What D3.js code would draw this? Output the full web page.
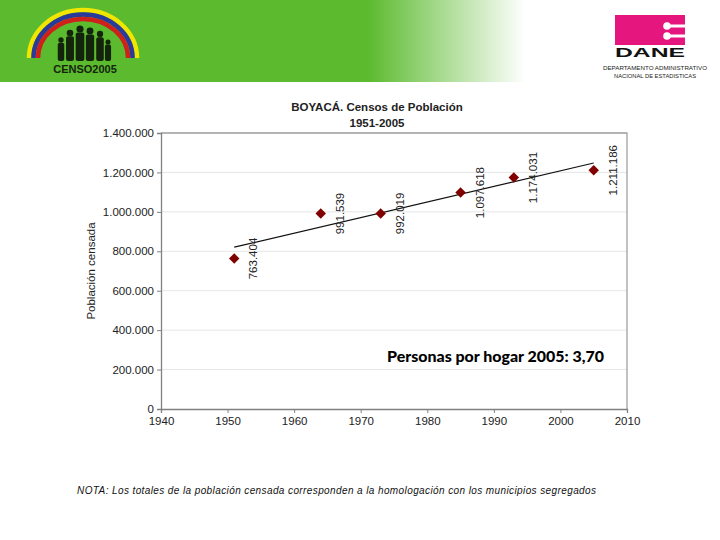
<!DOCTYPE html>
<html><head><meta charset="utf-8">
<script src="https://cdn.jsdelivr.net/npm/d3@7"></script>
<style>body{margin:0;background:#fff}svg{display:block}</style>
</head><body>
<script>
const years = [1951, 1964, 1973, 1985, 1993, 2005];
const population = [763404, 991539, 992019, 1097618, 1174031, 1211186];
const labels = ["763.404", "991.539", "992.019", "1.097.618", "1.174.031", "1.211.186"];
const yTicks = [0, 200000, 400000, 600000, 800000, 1000000, 1200000, 1400000];
const yTickLabels = ["0", "200.000", "400.000", "600.000", "800.000", "1.000.000", "1.200.000", "1.400.000"];
const xTicks = [1940, 1950, 1960, 1970, 1980, 1990, 2000, 2010];

(function () {
const W = 720, H = 540;
const svg = d3.select("body").append("svg").attr("width", W).attr("height", H);

// Header band
const defs = svg.append("defs");
const g1 = defs.append("linearGradient").attr("id", "hdr").attr("x1", "0").attr("x2", "1").attr("y1", "0").attr("y2", "0");
g1.append("stop").attr("offset", "0").attr("stop-color", "#5bba2e");
g1.append("stop").attr("offset", "0.51").attr("stop-color", "#5bba2e");
g1.append("stop").attr("offset", "0.73").attr("stop-color", "#ffffff");
g1.append("stop").attr("offset", "1").attr("stop-color", "#ffffff");
svg.append("rect").attr("x", 0).attr("y", 0).attr("width", W).attr("height", 82).attr("fill", "url(#hdr)");

// Censo logo
const logo = svg.append("g");
const arcCols = ["#f2e600", "#2a3a9a", "#d0201a"];
arcCols.forEach((c, i) => {
  const rx = 54 - i * 4.5, ry = 48 - i * 4.5;
  logo.append("path")
    .attr("d", `M ${83 - rx} ${58} A ${rx} ${ry} 0 0 1 ${83 + rx} ${58}`)
    .attr("fill", "none").attr("stroke", c).attr("stroke-width", 4.5);
});
const ppl = [[61, 40, 0.9], [70, 33, 1.1], [80, 29, 1.2], [90, 31, 1.15], [100, 34, 1.05], [108, 42, 0.85]];
ppl.forEach(([px, py, s]) => {
  logo.append("circle").attr("cx", px).attr("cy", py).attr("r", 3 * s).attr("fill", "#14240c");
  logo.append("rect").attr("x", px - 3.6 * s).attr("y", py + 3 * s).attr("width", 7.2 * s).attr("height", 61 - py - 3 * s).attr("rx", 2).attr("fill", "#14240c");
});
logo.append("text").attr("x", 85).attr("y", 73).attr("text-anchor", "middle")
  .attr("font-family", "Liberation Sans Narrow, Liberation Sans, Arial").attr("font-weight", "bold")
  .attr("font-size", 11).attr("fill", "#14240c").text("CENSO2005");

// DANE logo
const dl = svg.append("g");
dl.append("rect").attr("x", 615).attr("y", 15).attr("width", 70).attr("height", 30).attr("fill", "#e5177e");
dl.append("rect").attr("x", 666).attr("y", 24.5).attr("width", 19).attr("height", 3).attr("fill", "#fff");
dl.append("rect").attr("x", 666).attr("y", 34.5).attr("width", 19).attr("height", 3).attr("fill", "#fff");
dl.append("circle").attr("cx", 667).attr("cy", 26).attr("r", 3.8).attr("fill", "#fff");
dl.append("circle").attr("cx", 667).attr("cy", 36).attr("r", 3.8).attr("fill", "#fff");
dl.append("text").attr("x", 615).attr("y", 56.5)
  .attr("font-family", "Liberation Sans, Arial").attr("font-weight", "bold").attr("font-size", 12.5)
  .attr("textLength", 70).attr("lengthAdjust", "spacingAndGlyphs").attr("fill", "#111").text("DANE");
dl.append("text").attr("x", 655).attr("y", 69.5).attr("text-anchor", "middle")
  .attr("font-family", "Liberation Sans, Arial").attr("font-size", 5.5).attr("fill", "#222")
  .attr("textLength", 104).attr("lengthAdjust", "spacingAndGlyphs").text("DEPARTAMENTO ADMINISTRATIVO");
dl.append("text").attr("x", 655).attr("y", 77.5).attr("text-anchor", "middle")
  .attr("font-family", "Liberation Sans, Arial").attr("font-size", 5.5).attr("fill", "#222")
  .attr("textLength", 82).attr("lengthAdjust", "spacingAndGlyphs").text("NACIONAL DE ESTADISTICAS");

// Chart
const pL = 161, pR = 627, pT = 133, pB = 409;
const x = d3.scaleLinear().domain([1940, 2010]).range([pL, pR]);
const y = d3.scaleLinear().domain([0, 1400000]).range([pB, pT]);
const font = "Liberation Sans, Arial, sans-serif";

svg.append("text").attr("x", 377).attr("y", 111).attr("text-anchor", "middle")
  .attr("font-family", font).attr("font-weight", "bold").attr("font-size", 11.5).attr("fill", "#222")
  .text("BOYACÁ. Censos de Población");
svg.append("text").attr("x", 377).attr("y", 127).attr("text-anchor", "middle")
  .attr("font-family", font).attr("font-weight", "bold").attr("font-size", 11.5).attr("fill", "#222")
  .text("1951-2005");

// gridlines
svg.append("g").selectAll("line").data(yTicks.filter(d => d > 0)).join("line")
  .attr("x1", pL).attr("x2", pR).attr("y1", d => y(d)).attr("y2", d => y(d))
  .attr("stroke", "#e6e6e6").attr("stroke-width", 1);

// plot frame right/top
svg.append("path").attr("d", `M${pL},${pT}H${pR}V${pB}`).attr("fill", "none").attr("stroke", "#a0a0a0").attr("stroke-width", 1.3);

// axes
const yAxis = d3.axisLeft(y).tickValues(yTicks).tickFormat((d, i) => yTickLabels[i]).tickSize(4).tickPadding(3);
const gy = svg.append("g").attr("transform", `translate(${pL},0)`).call(yAxis);
gy.select(".domain").attr("stroke", "#808080").attr("stroke-width", 1.3);
gy.selectAll(".tick line").attr("stroke", "#808080");
gy.selectAll("text").attr("font-family", font).attr("font-size", 11.5).attr("fill", "#222");

const xAxis = d3.axisBottom(x).tickValues(xTicks).tickFormat(d3.format("d")).tickSize(4).tickPadding(4);
const gx = svg.append("g").attr("transform", `translate(0,${pB})`).call(xAxis);
gx.select(".domain").attr("stroke", "#808080").attr("stroke-width", 1.3);
gx.selectAll(".tick line").attr("stroke", "#808080");
gx.selectAll("text").attr("font-family", font).attr("font-size", 11.5).attr("fill", "#222");

svg.append("text").attr("transform", `translate(95,${(pT + pB) / 2}) rotate(-90)`)
  .attr("text-anchor", "middle").attr("font-family", font).attr("font-size", 11.5).attr("fill", "#222")
  .text("Población censada");

// linear trend (least squares of the census values)
const mx = d3.mean(years), my = d3.mean(population);
const slope = d3.sum(years, (v, i) => (v - mx) * (population[i] - my)) / d3.sum(years, v => (v - mx) ** 2);
const trend = [years[0], years[years.length - 1]].map(v => [v, my + slope * (v - mx)]);
svg.append("path").datum(trend)
  .attr("d", d3.line().x(d => x(d[0])).y(d => y(d[1])))
  .attr("stroke", "#111").attr("stroke-width", 1.2).attr("fill", "none");

// markers
const pts = years.map((v, i) => ({ year: v, pop: population[i], label: labels[i] }));
svg.append("g").selectAll("path").data(pts).join("path")
  .attr("transform", d => `translate(${x(d.year)},${y(d.pop)})`)
  .attr("d", d3.symbol().type(d3.symbolDiamond2).size(70))
  .attr("fill", "#800000");

// data labels
svg.append("g").selectAll("text").data(pts).join("text")
  .attr("transform", d => `translate(${x(d.year) + 23},${y(d.pop)}) rotate(-90)`)
  .attr("text-anchor", "middle")
  .attr("font-family", font).attr("font-size", 11.5).attr("fill", "#222")
  .text(d => d.label);

// annotation
svg.append("text").attr("x", 387).attr("y", 362)
  .attr("font-family", "Lato, 'Open Sans', sans-serif").attr("font-weight", "900").attr("font-size", 15.5)
  .attr("textLength", 217).attr("lengthAdjust", "spacingAndGlyphs")
  .attr("fill", "#000").text("Personas por hogar 2005: 3,70");

// note
svg.append("text").attr("x", 77).attr("y", 494)
  .attr("font-family", font).attr("font-style", "italic").attr("font-size", 10).attr("fill", "#111")
  .attr("textLength", 519).attr("lengthAdjust", "spacing")
  .text("NOTA: Los totales de la población censada corresponden a la homologación con los municipios segregados");
})();
</script>
</body></html>
